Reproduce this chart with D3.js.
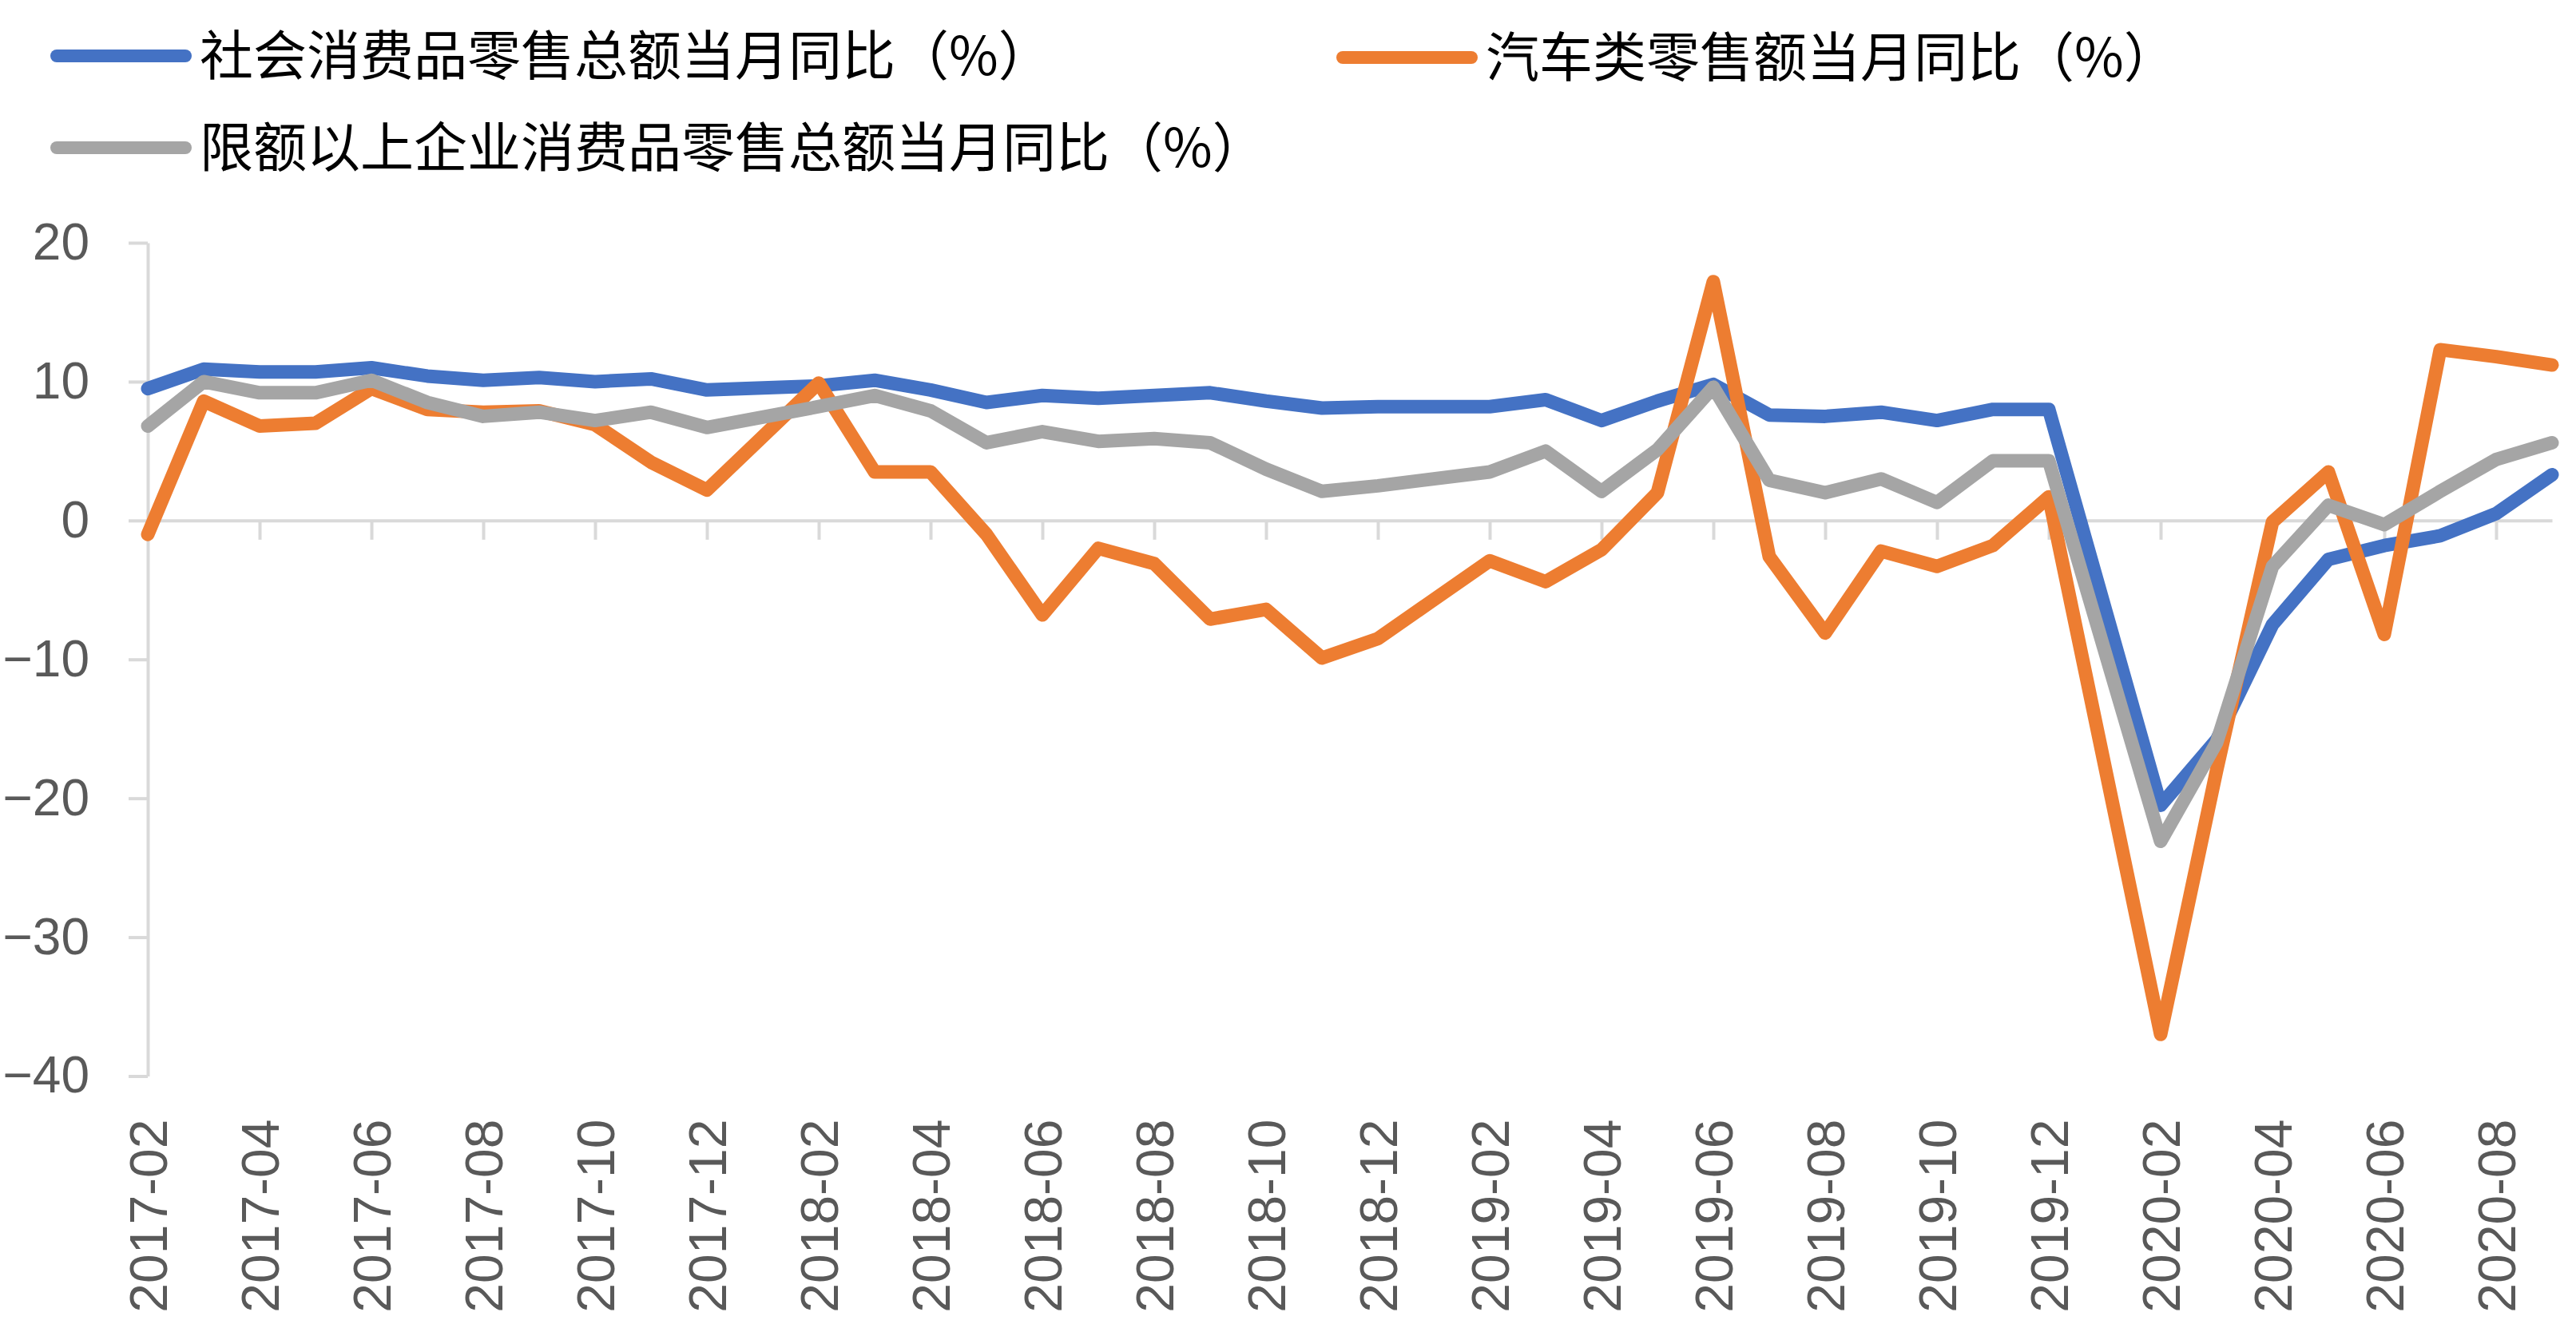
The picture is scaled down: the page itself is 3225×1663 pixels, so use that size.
<!DOCTYPE html>
<html>
<head>
<meta charset="utf-8">
<script src="https://cdn.jsdelivr.net/npm/d3@7"></script>
<style>
  body { margin: 0; background: #fff; }
</style>
</head>
<body>
<svg id="chart"></svg>
<script>
// months on the category axis (January figures are not published, kept as gaps)
const months = [
  "2017-02","2017-03","2017-04","2017-05","2017-06","2017-07","2017-08","2017-09","2017-10","2017-11","2017-12",
  "2018-01","2018-02","2018-03","2018-04","2018-05","2018-06","2018-07","2018-08","2018-09","2018-10","2018-11","2018-12",
  "2019-01","2019-02","2019-03","2019-04","2019-05","2019-06","2019-07","2019-08","2019-09","2019-10","2019-11","2019-12",
  "2020-01","2020-02","2020-03","2020-04","2020-05","2020-06","2020-07","2020-08","2020-09"
];

const retailTotal = [
  9.5, 10.9, 10.7, 10.7, 11.0, 10.4, 10.1, 10.3, 10.0, 10.2, 9.4,
  null, 9.7, 10.1, 9.4, 8.5, 9.0, 8.8, 9.0, 9.2, 8.6, 8.1, 8.2,
  null, 8.2, 8.7, 7.2, 8.6, 9.8, 7.6, 7.5, 7.8, 7.2, 8.0, 8.0,
  null, -20.5, -15.8, -7.5, -2.8, -1.8, -1.1, 0.5, 3.3
];

const autoRetail = [
  -1.0, 8.6, 6.8, 7.0, 9.5, 8.0, 7.8, 7.9, 6.9, 4.2, 2.2,
  null, 9.9, 3.5, 3.5, -1.0, -6.8, -2.0, -3.1, -7.1, -6.4, -9.9, -8.5,
  null, -2.9, -4.4, -2.1, 2.0, 17.2, -2.6, -8.1, -2.2, -3.3, -1.8, 1.7,
  null, -37.0, -18.0, -0.1, 3.5, -8.2, 12.3, 11.8, 11.2
];

const aboveQuota = [
  6.8, 10.0, 9.2, 9.2, 10.1, 8.5, 7.5, 7.8, 7.2, 7.8, 6.7,
  null, 8.2, 9.0, 7.9, 5.6, 6.4, 5.7, 5.9, 5.6, 3.7, 2.1, 2.5,
  null, 3.5, 5.0, 2.1, 5.1, 9.6, 2.9, 2.0, 3.0, 1.3, 4.3, 4.3,
  null, -23.1, -16.0, -3.3, 1.1, -0.3, 2.1, 4.4, 5.6
];

const seriesNames = [
  "社会消费品零售总额当月同比（%）",
  "汽车类零售额当月同比（%）",
  "限额以上企业消费品零售总额当月同比（%）"
];
const seriesColors = ["#4472C4", "#ED7D31", "#A5A5A5"];
const yTicks = [20, 10, 0, -10, -20, -30, -40];

const svgWidth = 3225;
const svgHeight = 1663;
const plot = { left: 185, right: 3195, top: 304, bottom: 1347.5 };

const svg = d3.select("#chart")
  .attr("width", svgWidth)
  .attr("height", svgHeight);

const x = d3.scalePoint()
  .domain(months)
  .range([plot.left, plot.right]);

const y = d3.scaleLinear()
  .domain([-40, 20])
  .range([plot.bottom, plot.top]);

const axisColor = "#D9D9D9";
const labelColor = "#595959";

// y axis
const yAxis = svg.append("g")
  .attr("transform", `translate(${plot.left},0)`)
  .call(d3.axisLeft(y).tickValues(yTicks).tickSize(24).tickSizeOuter(0).tickPadding(49));
yAxis.select(".domain").attr("stroke", axisColor).attr("stroke-width", 4);
yAxis.selectAll(".tick line").attr("stroke", axisColor).attr("stroke-width", 4);
yAxis.selectAll("text")
  .attr("fill", labelColor)
  .attr("font-family", "'Liberation Sans', Arial, sans-serif")
  .attr("font-size", 64);

// x axis line at zero with ticks every second month
const xAxis = svg.append("g")
  .attr("transform", `translate(0,${y(0)})`)
  .call(d3.axisBottom(x)
    .tickValues(months.filter((d, i) => i % 2 === 0))
    .tickSize(24).tickSizeOuter(0).tickFormat(""));
xAxis.select(".domain").attr("stroke", axisColor).attr("stroke-width", 4);
xAxis.selectAll(".tick line").attr("stroke", axisColor).attr("stroke-width", 4);

// month labels sit below the plot area
const xLabels = svg.append("g")
  .attr("transform", `translate(0,${plot.bottom})`)
  .call(d3.axisBottom(x)
    .tickValues(months.filter((d, i) => i % 2 === 0))
    .tickSize(0));
xLabels.select(".domain").remove();
xLabels.selectAll("text")
  .attr("fill", labelColor)
  .attr("font-family", "'Liberation Sans', Arial, sans-serif")
  .attr("font-size", 66)
  .attr("text-anchor", "end")
  .attr("transform", "rotate(-90)")
  .attr("x", -54)
  .attr("y", 0)
  .attr("dy", "0.36em");

// lines, gaps are bridged like the original
const series = [retailTotal, autoRetail, aboveQuota].map((vals, k) => ({
  name: seriesNames[k],
  color: seriesColors[k],
  points: months.map((m, i) => ({ m, v: vals[i] })).filter(d => d.v !== null)
}));

const line = d3.line()
  .x(d => x(d.m))
  .y(d => y(d.v));

svg.append("g")
  .selectAll("path")
  .data(series)
  .enter()
  .append("path")
  .attr("d", d => line(d.points))
  .attr("fill", "none")
  .attr("stroke", d => d.color)
  .attr("stroke-width", 17)
  .attr("stroke-linejoin", "round")
  .attr("stroke-linecap", "round");

// legend
const legendPos = [
  { x: 63, y: 70 },
  { x: 1673, y: 72 },
  { x: 63, y: 185 }
];

const legend = svg.append("g")
  .selectAll("g")
  .data(series)
  .enter()
  .append("g")
  .attr("transform", (d, i) => `translate(${legendPos[i].x},${legendPos[i].y})`);

legend.append("line")
  .attr("x1", 8)
  .attr("x2", 169)
  .attr("stroke", d => d.color)
  .attr("stroke-width", 16)
  .attr("stroke-linecap", "round");

legend.append("text")
  .attr("x", 187)
  .attr("y", 0)
  .attr("dy", "0.36em")
  .attr("font-family", "'Noto Sans CJK SC', sans-serif")
  .attr("font-size", 67)
  .attr("fill", "#000")
  .text(d => d.name);
</script>
</body>
</html>
